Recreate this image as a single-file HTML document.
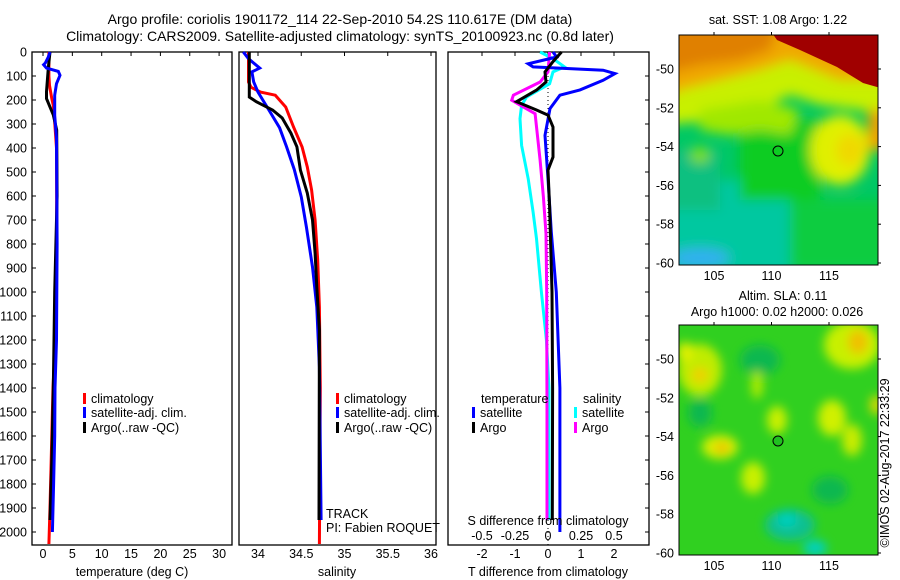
<!DOCTYPE html>
<html><head><meta charset="utf-8"><style>
body{margin:0;background:#fff;}
svg{display:block;font-family:"Liberation Sans",sans-serif;}
text{fill:#000;font-size:12.5px;}
</style></head><body>
<svg id="fig" width="900" height="580" viewBox="0 0 900 580" xmlns="http://www.w3.org/2000/svg">
<defs>
<filter id="blur1" x="-20%" y="-20%" width="140%" height="140%"><feGaussianBlur stdDeviation="6"/></filter>
<filter id="blur2" x="-20%" y="-20%" width="140%" height="140%"><feGaussianBlur stdDeviation="5"/></filter>
<clipPath id="clipM1"><rect x="679" y="35" width="199" height="230"/></clipPath>
<clipPath id="clipM2"><rect x="679" y="325" width="199" height="230"/></clipPath>
</defs>
<text x="340" y="24" text-anchor="middle" style="font-size:14px">Argo profile: coriolis 1901172_114 22-Sep-2010 54.2S 110.617E (DM data)</text>
<text x="340" y="41" text-anchor="middle" style="font-size:14px">Climatology: CARS2009. Satellite-adjusted climatology: synTS_20100923.nc (0.8d later)</text>

<!-- Map 1 -->
<g clip-path="url(#clipM1)">
<rect x="679" y="35" width="199" height="230" fill="#00c864"/>
<g filter="url(#blur1)">
<rect x="660" y="180" width="130" height="100" fill="#00c8a0"/>
<rect x="660" y="150" width="60" height="60" fill="#10c080"/>
<ellipse cx="700" cy="258" rx="30" ry="10" fill="#30b0f0"/>
<ellipse cx="808" cy="262" rx="10" ry="6" fill="#30a8f0"/>
<rect x="790" y="200" width="100" height="70" fill="#10cc40"/>
<rect x="740" y="120" width="80" height="80" fill="#10cc20"/>
<polygon points="660,20 900,20 900,120 860,110 820,105 790,95 760,110 720,120 660,125" fill="#c8f000"/>
<polygon points="700,110 760,100 800,110 790,135 760,130 730,135 700,130" fill="#a0e800"/>
<ellipse cx="840" cy="150" rx="30" ry="35" fill="#e0f000"/>
<ellipse cx="850" cy="150" rx="14" ry="16" fill="#f0d800"/>
<ellipse cx="700" cy="155" rx="10" ry="8" fill="#80e000"/>
<polygon points="660,20 900,20 900,80 840,80 790,60 760,70 720,80 680,90 660,100" fill="#f0a800"/>
<polygon points="660,20 780,20 770,50 740,60 700,65 660,75" fill="#e08000"/>
<rect x="868" y="110" width="20" height="40" fill="#f0a000"/>
</g>
<polygon points="770,30 900,30 900,88 877,87 863,83 837,67 800,50 777,40" fill="#a00000"/>
<circle cx="778" cy="151" r="5" fill="none" stroke="#000" stroke-width="1"/>
</g>
<rect x="679" y="35" width="199" height="230" fill="none" stroke="#000" stroke-width="1"/>
<text x="778" y="24" text-anchor="middle">sat. SST: 1.08 Argo: 1.22</text>

<!-- Map 2 -->
<g clip-path="url(#clipM2)">
<rect x="679" y="325" width="199" height="230" fill="#30d020"/>
<g filter="url(#blur2)">
<ellipse cx="700" cy="413" rx="12" ry="14" fill="#10b850"/>
<ellipse cx="830" cy="490" rx="18" ry="14" fill="#10b850"/>
<ellipse cx="760" cy="360" rx="20" ry="15" fill="#10b850"/>
<ellipse cx="790" cy="525" rx="25" ry="16" fill="#10c090"/>
<ellipse cx="787" cy="520" rx="10" ry="7" fill="#00d0c0"/>
<ellipse cx="815" cy="548" rx="12" ry="8" fill="#00d0c0"/>
<ellipse cx="700" cy="370" rx="22" ry="26" fill="#c0ec00"/>
<ellipse cx="700" cy="375" rx="8" ry="8" fill="#f0d000"/>
<ellipse cx="685" cy="352" rx="8" ry="10" fill="#e0f000"/>
<ellipse cx="852" cy="345" rx="28" ry="24" fill="#c8f000"/>
<ellipse cx="858" cy="342" rx="10" ry="12" fill="#f0c000"/>
<ellipse cx="720" cy="447" rx="18" ry="12" fill="#d8f000"/>
<ellipse cx="722" cy="448" rx="7" ry="5" fill="#f0b800"/>
<ellipse cx="777" cy="420" rx="10" ry="14" fill="#c8f000"/>
<ellipse cx="832" cy="418" rx="14" ry="18" fill="#d0f000"/>
<ellipse cx="852" cy="440" rx="10" ry="16" fill="#c8ec00"/>
<ellipse cx="753" cy="478" rx="12" ry="16" fill="#c8f000"/>
<ellipse cx="757" cy="385" rx="6" ry="14" fill="#b0ec00"/>
<ellipse cx="876" cy="405" rx="6" ry="10" fill="#e0d800"/>
</g>
<circle cx="778" cy="441" r="5" fill="#20c020" stroke="#000" stroke-width="1"/>
</g>
<rect x="679" y="325" width="199" height="230" fill="none" stroke="#000" stroke-width="1"/>
<text x="783" y="300" text-anchor="middle">Altim. SLA: 0.11</text>
<text x="777" y="316" text-anchor="middle">Argo h1000: 0.02 h2000: 0.026</text>
<text transform="translate(889,463) rotate(-90)" text-anchor="middle">©IMOS 02-Aug-2017 22:33:29</text>
<g id="mapAxes"></g>
<g id="panels"></g>
</svg>
<script>
// Depth axis
const depthTicks=[0,100,200,300,400,500,600,700,800,900,1000,1100,1200,1300,1400,1500,1600,1700,1800,1900,2000];
// Panel 1: temperature
const tempTicks=[0,5,10,15,20,25,30];
const tClimD=[0,100,139,194,222,292,400,800,1200,1400,1600,1900,2050];
const tClimV=[1.0,1.0,1.1,1.5,1.76,2.0,2.3,2.35,2.1,1.7,1.5,1.2,1.0];
const tSatD=[0,21,46,53,67,81,97,132,180,264,361,800,1200,1400,1600,1800,2000];
const tSatV=[1.2,0.9,0.4,0.1,0.6,2.6,2.9,2.3,2.0,2.0,2.3,2.4,2.3,2.05,2.0,1.8,1.6];
const tArgoD=[0,67,165,194,262,325,600,1000,1400,1700,1950];
const tArgoV=[1.19,0.9,0.6,0.6,1.76,2.33,2.4,2.0,1.75,1.5,1.2];
// Panel 2: salinity
const salTicks=[34,34.5,35,35.5,36];
const sClimD=[0,125,147,167,180,229,312,396,479,575,700,867,1063,1400,2050];
const sClimV=[33.89,33.89,33.92,34.03,34.2,34.32,34.41,34.51,34.57,34.62,34.66,34.69,34.71,34.72,34.71];
const sSatD=[0,28,67,83,125,167,250,316,394,490,604,729,896,1063,1313,1950];
const sSatV=[33.83,33.89,34.02,33.93,33.95,34.0,34.14,34.25,34.33,34.42,34.50,34.56,34.63,34.68,34.71,34.73];
const sArgoD=[0,188,207,242,275,338,395,492,588,700,838,979,1158,1950];
const sArgoV=[33.9,33.9,33.98,34.17,34.28,34.38,34.45,34.49,34.57,34.63,34.66,34.68,34.71,34.705];
// Panel 3: differences
const dTTicks=[-2,-1,0,1,2];
const dSTicks=[-0.5,-0.25,0,0.25,0.5];
const dTSatD=[0,21,49,62,76,90,118,158,180,236,347,528,750,1000,1400,2000];
const dTSatV=[0.15,0.26,-0.6,-0.45,1.67,2.03,1.67,0.97,0.36,0.06,-0.09,0,0.1,0.25,0.36,0.36];
const dTArgoD=[0,40,83,125,158,207,242,263,313,438,492,646,1000,1400,1950];
const dTArgoV=[0.41,0.15,-0.09,-0.06,-0.34,-0.95,-0.34,0,0.15,0.15,0,0.05,0.12,0.14,0.13];
const dSSatD=[0,28,62,83,132,188,222,278,389,528,667,778,1000,1200,1400,1950];
const dSSatV=[-0.06,0.0375,0.125,0.0375,0.0125,-0.1625,-0.2,-0.2125,-0.2,-0.15,-0.1125,-0.0875,-0.05,-0.0125,0.0075,0.0075];
const dSArgoD=[0,83,125,180,201,229,257,451,604,757,1000,1500,1950];
const dSArgoV=[0.0125,0,-0.06,-0.2625,-0.275,-0.1875,-0.0975,-0.06,-0.035,-0.015,-0.01,-0.0075,-0.0075];
// Map axes
const latTicks=[-50,-52,-54,-56,-58,-60];
const lonTicks=[105,110,115];

const NS='http://www.w3.org/2000/svg';
function mk(tag,attrs,parent,txt){const e=document.createElementNS(NS,tag);for(const k in attrs)e.setAttribute(k,attrs[k]);if(txt!==undefined)e.textContent=txt;parent.appendChild(e);return e;}
const P=document.getElementById('panels');
const yD=d=>52+d*0.24;
const xT=t=>43+t*5.87;
const xS=s=>258+(s-34)*86.5;
const xDT=t=>548+t*33;
const xDS=s=>548+s*132;
const TOP=52,BOT=545;

function frame(x0,x1,name){
  const r=mk('rect',{x:x0,y:TOP,width:x1-x0,height:BOT-TOP,fill:'none',stroke:'#000','stroke-width':1.3},P);
  
  
}
function line(xf,D,V,color,name){
  const pts=D.map((d,i)=>xf(V[i]).toFixed(1)+','+yD(d).toFixed(1)).join(' ');
  const p=mk('polyline',{points:pts,fill:'none',stroke:color,'stroke-width':3,'stroke-linejoin':'miter'},P);
  
  
}
function legendEntry(x,y,color,label,name){
  const g=mk('g',{},P);
  
  
  mk('rect',{x:x,y:y-10,width:3,height:11,fill:color},g);
  mk('text',{x:x+8,y:y},g,label);
}
function xTicks(xf,ticks,y,name){
  ticks.forEach(t=>{
    mk('line',{x1:xf(t),x2:xf(t),y1:TOP,y2:TOP+4,stroke:'#000','stroke-width':1},P);
    const tx=mk('text',{x:xf(t),y:y,'text-anchor':'middle'},P,String(t));
    
    
  });
}
// Panel 1
frame(32,232,'temperature-panel');
depthTicks.forEach(d=>{
  mk('line',{x1:32,x2:36,y1:yD(d),y2:yD(d),stroke:'#000','stroke-width':1},P);
  const t=mk('text',{x:27,y:yD(d)+4.5,'text-anchor':'end'},P,String(d));
  
  
});
xTicks(xT,tempTicks,558,'temperature-tick-label');
line(xT,tClimD,tClimV,'#ff0000','temperature-climatology-line');
line(xT,tArgoD,tArgoV,'#000000','temperature-argo-line');
line(xT,tSatD,tSatV,'#0000ff','temperature-satellite-line');
let t1=mk('text',{x:132,y:576,'text-anchor':'middle'},P,'temperature (deg C)');


legendEntry(83,403,'#ff0000','climatology','legend-climatology');
legendEntry(83,417,'#0000ff','satellite-adj. clim.','legend-satellite-adj');
legendEntry(83,432,'#000000','Argo(..raw -QC)','legend-argo');

// Panel 2
frame(239,436,'salinity-panel');
xTicks(xS,salTicks,558,'salinity-tick-label');
line(xS,sClimD,sClimV,'#ff0000','salinity-climatology-line');
line(xS,sSatD,sSatV,'#0000ff','salinity-satellite-line');
line(xS,sArgoD,sArgoV,'#000000','salinity-argo-line');
let t2=mk('text',{x:337,y:576,'text-anchor':'middle'},P,'salinity');


legendEntry(336,403,'#ff0000','climatology','legend-climatology-2');
legendEntry(336,417,'#0000ff','satellite-adj. clim.','legend-satellite-adj-2');
legendEntry(336,432,'#000000','Argo(..raw -QC)','legend-argo-2');
let tr=mk('text',{x:326,y:518},P,'TRACK');


let pi=mk('text',{x:326,y:532},P,'PI: Fabien ROQUET');



// Panel 3
frame(448,649,'difference-panel');
let zl=mk('line',{x1:xDT(0),x2:xDT(0),y1:TOP,y2:BOT,stroke:'#000','stroke-width':1,'stroke-dasharray':'1,3'},P);


dTTicks.forEach(t=>{
  mk('line',{x1:xDT(t),x2:xDT(t),y1:TOP,y2:TOP+4,stroke:'#000','stroke-width':1},P);
  const tx=mk('text',{x:xDT(t),y:558,'text-anchor':'middle'},P,String(t));
  
  
});
dSTicks.forEach(s=>{
  const tx=mk('text',{x:xDS(s),y:540,'text-anchor':'middle'},P,String(s));
  
  
});
depthTicks.forEach(d=>{mk('line',{x1:645,x2:649,y1:yD(d),y2:yD(d),stroke:'#000','stroke-width':1},P);});
line(xDS,dSSatD,dSSatV,'#00ffff','salinity-satellite-diff-line');
line(xDS,dSArgoD,dSArgoV,'#ff00ff','salinity-argo-diff-line');
line(xDT,dTSatD,dTSatV,'#0000ff','temperature-satellite-diff-line');
line(xDT,dTArgoD,dTArgoV,'#000000','temperature-argo-diff-line');
let t3=mk('text',{x:548,y:576,'text-anchor':'middle'},P,'T difference from climatology');


let t4=mk('text',{x:548,y:525,'text-anchor':'middle'},P,'S difference from climatology');


let lt=mk('text',{x:481,y:403},P,'temperature');


let ls=mk('text',{x:583,y:403},P,'salinity');


legendEntry(472,417,'#0000ff','satellite','legend-temp-satellite');
legendEntry(472,432,'#000000','Argo','legend-temp-argo');
legendEntry(574,417,'#00ffff','satellite','legend-sal-satellite');
legendEntry(574,432,'#ff00ff','Argo','legend-sal-argo');

// Map axes
const MA=document.getElementById('mapAxes');
const maps=[{y0:35,lat50:69,name:'sst'},{y0:325,lat50:359,name:'sla'}];
const xLon=l=>714+(l-105)*11.5;
maps.forEach(m=>{
  const yLat=la=>m.lat50+(-50-la)*19.4;
  latTicks.forEach(la=>{
    mk('line',{x1:878,x2:881,y1:yLat(la),y2:yLat(la),stroke:'#000','stroke-width':1},MA);
    const t=mk('text',{x:674,y:yLat(la)+4.5,'text-anchor':'end'},MA,String(la));
    
    
  });
  lonTicks.forEach(lo=>{
    mk('line',{x1:xLon(lo),x2:xLon(lo),y1:m.y0-3,y2:m.y0,stroke:'#000','stroke-width':1},MA);
    const t=mk('text',{x:xLon(lo),y:m.y0+245,'text-anchor':'middle'},MA,String(lo));
    
    
  });
});
</script>
</body></html>
